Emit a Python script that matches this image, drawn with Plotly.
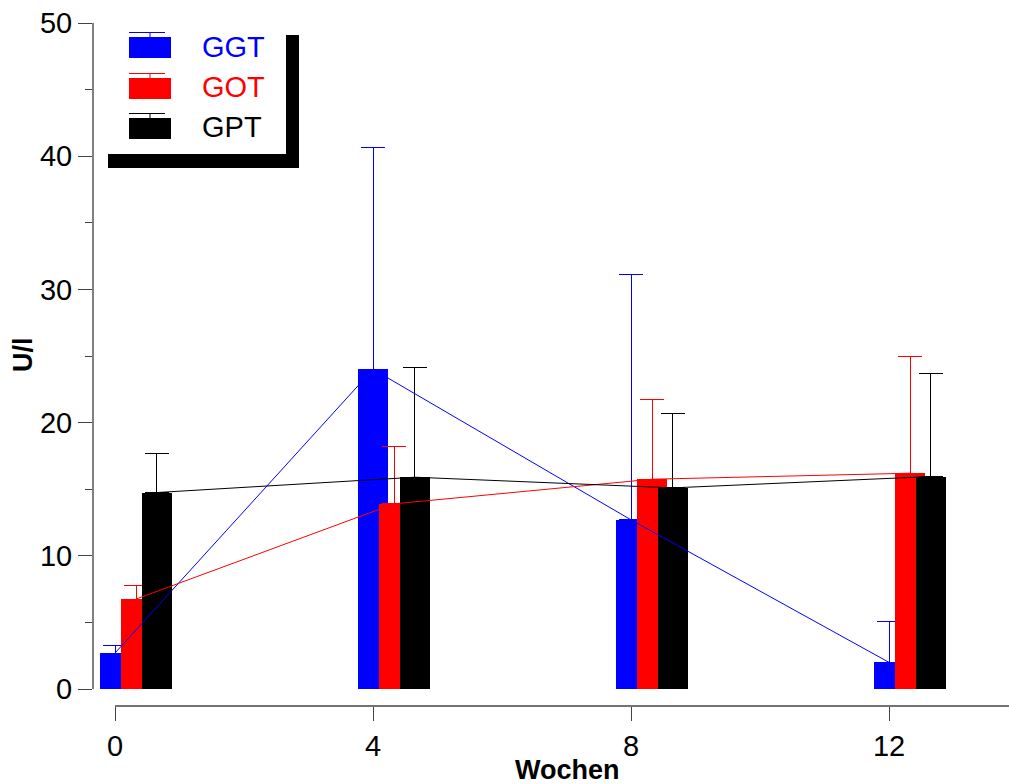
import plotly.graph_objects as go

# Liver enzyme activity (U/l) over the weeks of follow-up
weeks = [0, 4, 8, 12]
series_names = ["GGT", "GOT", "GPT"]
ggt_mean = [2.7, 24.0, 12.7, 2.0]
ggt_sd = [0.55, 16.65, 18.4, 3.05]
got_mean = [6.75, 13.9, 15.75, 16.2]
got_sd = [1.05, 4.3, 5.95, 8.8]
gpt_mean = [14.75, 15.9, 15.1, 15.95]
gpt_sd = [2.95, 8.25, 5.6, 7.75]
x_ticks = [0, 4, 8, 12]
y_ticks = [0, 10, 20, 30, 40, 50]
y_minor = [5, 15, 25, 35, 45]

colors = ["#0000ff", "#ff0000", "#000000"]
offsets = [0.0, 0.3256, 0.651]
bar_w = 0.45

W, H = 1009, 784
L, R, T, B = 93, 0, 23, 78
plot_w = W - L - R
plot_h = H - T - B
FONT = "Arial, Liberation Sans, sans-serif"


def px_x(p):
    return (p - L) / plot_w


def px_y(p):
    return (H - B - p) / plot_h


fig = go.Figure()

means = [ggt_mean, got_mean, gpt_mean]
sds = [ggt_sd, got_sd, gpt_sd]

for name, m, s, c, off in zip(series_names, means, sds, colors, offsets):
    fig.add_trace(go.Bar(
        x=[w + off for w in weeks], y=m, width=bar_w, name=name,
        marker=dict(color=c, line=dict(width=0)),
        error_y=dict(type="data", symmetric=False, array=s,
                     arrayminus=[0] * len(s), color=c, thickness=1, width=12),
        showlegend=False,
    ))

for name, m, c, off in zip(series_names, means, colors, offsets):
    fig.add_trace(go.Scatter(
        x=[w + off for w in weeks], y=m, mode="lines", name=name,
        line=dict(color=c, width=1), showlegend=False, hoverinfo="skip",
    ))

shapes = []
# separate axis lines: y stops at 0..50, x runs from week 0 to the right edge
shapes.append(dict(type="line", xref="paper", yref="y", x0=0, x1=0, y0=0, y1=50,
                   line=dict(color="black", width=1)))
shapes.append(dict(type="line", xref="x", yref="paper", x0=0, x1=14, y0=0, y1=0,
                   line=dict(color="#444", width=1.5)))

# legend swatches with error-bar caps
swatch_tops = [37, 78, 118]
for c, top in zip(colors, swatch_tops):
    shapes.append(dict(type="rect", xref="paper", yref="paper",
                       x0=px_x(129), x1=px_x(171), y0=px_y(top), y1=px_y(top + 21),
                       fillcolor=c, line=dict(width=0)))
    shapes.append(dict(type="line", xref="paper", yref="paper",
                       x0=px_x(129), x1=px_x(165), y0=px_y(top - 4.5), y1=px_y(top - 4.5),
                       line=dict(color=c, width=1)))
    shapes.append(dict(type="line", xref="paper", yref="paper",
                       x0=px_x(150), x1=px_x(150), y0=px_y(top - 4.5), y1=px_y(top),
                       line=dict(color=c, width=1)))

# legend box drop shadow
shapes.append(dict(type="rect", xref="paper", yref="paper",
                   x0=px_x(286), x1=px_x(299), y0=px_y(35), y1=px_y(168),
                   fillcolor="black", line=dict(width=0)))
shapes.append(dict(type="rect", xref="paper", yref="paper",
                   x0=px_x(108), x1=px_x(299), y0=px_y(154), y1=px_y(168),
                   fillcolor="black", line=dict(width=0)))

annotations = []
text_centers = [47, 87, 127]
for name, c, yc in zip(series_names, colors, text_centers):
    annotations.append(dict(text=name, xref="paper", yref="paper",
                            x=px_x(200), y=px_y(yc), xanchor="left", yanchor="middle",
                            showarrow=False, font=dict(family=FONT, size=29, color=c)))

annotations.append(dict(text="<b>Wochen</b>", xref="paper", yref="paper",
                        x=px_x(567), y=px_y(H), xanchor="center", yanchor="bottom",
                        yshift=-3, showarrow=False,
                        font=dict(family=FONT, size=27, color="black")))
annotations.append(dict(text="<b>U/l</b>", xref="paper", yref="paper",
                        x=px_x(23), y=px_y(355), xanchor="center", yanchor="middle",
                        textangle=-90, showarrow=False,
                        font=dict(family=FONT, size=27, color="black")))

fig.update_layout(
    width=W, height=H,
    margin=dict(l=L, r=R, t=T, b=B, pad=0),
    plot_bgcolor="white", paper_bgcolor="white",
    barmode="overlay", bargap=0,
    font=dict(family=FONT, size=29, color="black"),
    shapes=shapes, annotations=annotations,
    xaxis=dict(range=[(L - 115) / 64.5, (W - 115) / 64.5], tickvals=x_ticks,
               ticktext=[str(v) for v in x_ticks],
               ticks="outside", ticklen=14, tickwidth=1, tickcolor="#444",
               showline=False, showgrid=False, zeroline=False,
               tickfont=dict(family=FONT, size=29, color="black")),
    yaxis=dict(range=[-17 / 13.32, 50], tickvals=y_ticks,
               ticktext=[str(v) for v in y_ticks],
               ticks="outside", ticklen=14, tickwidth=1, tickcolor="#444",
               minor=dict(tickvals=y_minor, ticks="outside", ticklen=7,
                          tickwidth=1, tickcolor="#444", showgrid=False),
               showline=False, showgrid=False, zeroline=False,
               tickfont=dict(family=FONT, size=29, color="black")),
)

fig.write_html("out.html")
